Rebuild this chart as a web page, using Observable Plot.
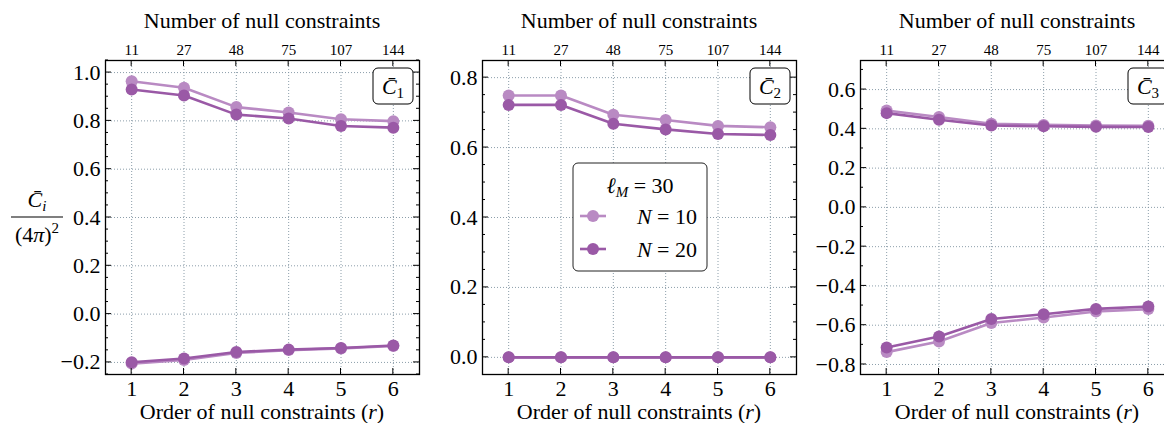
<!DOCTYPE html>
<html>
<head>
<meta charset="utf-8">
<script src="https://cdn.jsdelivr.net/npm/d3@7"></script>
<script src="https://cdn.jsdelivr.net/npm/@observablehq/plot@0.6"></script>
<style>
  body { margin: 0; background: #fff; }
  #fig { position: relative; width: 1164px; height: 423px; overflow: hidden; background: #fff; }
  #fig svg { position: absolute; top: 0; overflow: visible; }
  #fig svg text { font-family: "Liberation Serif", "Times New Roman", Times, "DejaVu Serif", serif; }
</style>
</head>
<body>
<div id="fig"></div>
<script>
const FONT = "Liberation Serif";
const LIGHT = "#b98ac3";
const DARK = "#9a59a6";
const GRID = "#7f93a0";

// Order of the null constraints and the matching number of constraints
const orders = [1, 2, 3, 4, 5, 6];
const nullCounts = [11, 27, 48, 75, 107, 144];
const sizes = [10, 20];

// C̄1 / (4π)^2 bounds
const c1UpperN10 = [0.964, 0.937, 0.857, 0.835, 0.807, 0.799];
const c1UpperN20 = [0.930, 0.905, 0.826, 0.810, 0.779, 0.772];
const c1LowerN10 = [-0.205, -0.190, -0.161, -0.149, -0.142, -0.132];
const c1LowerN20 = [-0.199, -0.184, -0.157, -0.147, -0.140, -0.130];

// C̄2 / (4π)^2 bounds
const c2UpperN10 = [0.749, 0.749, 0.694, 0.679, 0.662, 0.658];
const c2UpperN20 = [0.722, 0.722, 0.668, 0.652, 0.639, 0.636];
const c2LowerN10 = [0, 0, 0, 0, 0, 0];
const c2LowerN20 = [0, 0, 0, 0, 0, 0];

// C̄3 / (4π)^2 bounds
const c3UpperN10 = [0.493, 0.460, 0.426, 0.420, 0.417, 0.416];
const c3UpperN20 = [0.480, 0.446, 0.417, 0.413, 0.410, 0.409];
const c3LowerN10 = [-0.737, -0.683, -0.589, -0.561, -0.530, -0.518];
const c3LowerN20 = [-0.713, -0.657, -0.568, -0.544, -0.517, -0.505];

// Tick labels of the y axes
const yTicks1 = [-0.2, 0.0, 0.2, 0.4, 0.6, 0.8, 1.0];
const yTicks2 = [0.0, 0.2, 0.4, 0.6, 0.8];
const yTicks3 = [-0.8, -0.6, -0.4, -0.2, 0.0, 0.2, 0.4, 0.6];

const rowsOf = (values, N, branch) =>
  orders.map((r, i) => ({r, value: values[i], N, branch}));

const panels = [
  {
    index: 1, left: 0, width: 430, marginLeft: 105, marginRight: 11,
    domain: [-0.25, 1.05], ticks: yTicks1, minorStep: 0.05,
    series: {
      10: [...rowsOf(c1UpperN10, 10, "upper"), ...rowsOf(c1LowerN10, 10, "lower")],
      20: [...rowsOf(c1UpperN20, 20, "upper"), ...rowsOf(c1LowerN20, 20, "lower")]
    }
  },
  {
    index: 2, left: 430, width: 370, marginLeft: 52, marginRight: 4,
    domain: [-0.049, 0.849], ticks: yTicks2, minorStep: 0.05,
    series: {
      10: [...rowsOf(c2UpperN10, 10, "upper"), ...rowsOf(c2LowerN10, 10, "lower")],
      20: [...rowsOf(c2UpperN20, 20, "upper"), ...rowsOf(c2LowerN20, 20, "lower")]
    }
  },
  {
    index: 3, left: 800, width: 380, marginLeft: 60, marginRight: 6,
    domain: [-0.851, 0.748], ticks: yTicks3, minorStep: 0.1,
    series: {
      10: [...rowsOf(c3UpperN10, 10, "upper"), ...rowsOf(c3LowerN10, 10, "lower")],
      20: [...rowsOf(c3UpperN20, 20, "upper"), ...rowsOf(c3LowerN20, 20, "lower")]
    }
  }
];

const TOP = 60, BOTTOM = 374, HEIGHT = 423;
const colorOf = {10: LIGHT, 20: DARK};
const fmt = d3.format(".1f");

function drawPanel(p) {
  const seriesMarks = sizes.flatMap(N => [
    Plot.line(p.series[N], {x: "r", y: "value", z: "branch", stroke: colorOf[N], strokeWidth: 2.6}),
    Plot.dot(p.series[N], {x: "r", y: "value", fill: colorOf[N], r: 6})
  ]);

  const svg = Plot.plot({
    width: p.width,
    height: HEIGHT,
    marginLeft: p.marginLeft,
    marginRight: p.marginRight,
    marginTop: TOP,
    marginBottom: HEIGHT - BOTTOM,
    style: {fontFamily: FONT, background: "transparent", color: "black"},
    x: {domain: [0.5, 6.5], axis: null},
    y: {domain: p.domain, axis: null},
    marks: [
      Plot.gridX(orders, {stroke: GRID, strokeOpacity: 1, strokeWidth: 0.9, strokeDasharray: "1,2"}),
      Plot.gridY(p.ticks, {stroke: GRID, strokeOpacity: 1, strokeWidth: 0.9, strokeDasharray: "1,2"}),
      Plot.axisX(orders, {anchor: "bottom", tickSize: 0, tickPadding: 6, fontSize: 22, label: null, tickFormat: d => String(d)}),
      Plot.axisX(orders, {anchor: "top", tickSize: 0, tickPadding: 6, fontSize: 15, label: null, tickFormat: d => String(nullCounts[d - 1])}),
      Plot.axisY(p.ticks, {anchor: "left", tickSize: 0, tickPadding: 5, fontSize: 22, label: null, tickFormat: fmt}),
      ...seriesMarks,
      Plot.frame({stroke: "black", strokeWidth: 1.3})
    ]
  });
  svg.style.left = p.left + "px";

  const x = svg.scale("x"), y = svg.scale("y");
  const L = p.marginLeft, R = p.width - p.marginRight;
  const root = d3.select(svg);

  // inward ticks on all four sides
  const ticks = root.append("g").attr("stroke", "black").attr("stroke-width", 1);
  const [lo, hi] = p.domain;
  const minors = d3.range(Math.ceil(lo / p.minorStep - 1e-9), Math.floor(hi / p.minorStep + 1e-9) + 1)
    .map(k => k * p.minorStep)
    .filter(v => !p.ticks.some(t => Math.abs(t - v) < 1e-9));
  const yTick = (v, len) => {
    const yy = y.apply(v);
    ticks.append("line").attr("x1", L).attr("x2", L + len).attr("y1", yy).attr("y2", yy);
    ticks.append("line").attr("x1", R - len).attr("x2", R).attr("y1", yy).attr("y2", yy);
  };
  p.ticks.forEach(v => yTick(v, 6));
  minors.forEach(v => yTick(v, 3));
  orders.forEach(v => {
    const xx = x.apply(v);
    ticks.append("line").attr("x1", xx).attr("x2", xx).attr("y1", BOTTOM).attr("y2", BOTTOM - 6);
    ticks.append("line").attr("x1", xx).attr("x2", xx).attr("y1", TOP).attr("y2", TOP + 6);
  });

  const cx = (L + R) / 2;
  const text = (xx, yy, size, anchor = "middle") =>
    root.append("text").attr("x", xx).attr("y", yy)
      .attr("font-size", size)
      .attr("text-anchor", anchor).attr("fill", "black");

  // axis titles
  text(cx, 28, 22).text("Number of null constraints");
  const xt = text(cx, 419, 22);
  xt.append("tspan").text("Order of null constraints (");
  xt.append("tspan").attr("font-style", "italic").text("r");
  xt.append("tspan").text(")");

  // series label box in the upper right corner
  const bw = 40, bh = 36, bx = R - 6 - bw, by = 68;
  root.append("rect").attr("x", bx).attr("y", by).attr("width", bw).attr("height", bh)
    .attr("rx", 5).attr("fill", "white").attr("stroke", "black").attr("stroke-width", 1);
  const lab = text(bx + bw / 2, by + 26, 22);
  lab.append("tspan").attr("font-style", "italic").text("C\u0304");
  lab.append("tspan").attr("font-size", 15).attr("dy", 4).text(String(p.index));

  return svg;
}

const fig = document.getElementById("fig");
const svgs = panels.map(drawPanel);
svgs.forEach(s => fig.appendChild(s));

// y-axis label: C̄_i / (4π)^2
{
  const root = d3.select(svgs[0]);
  const t = (xx, yy, size) => root.append("text").attr("x", xx).attr("y", yy)
    .attr("font-size", size).attr("text-anchor", "middle").attr("fill", "black");
  const num = t(37, 207, 22);
  num.append("tspan").attr("font-style", "italic").text("C\u0304");
  num.append("tspan").attr("font-style", "italic").attr("font-size", 15).attr("dy", 4).text("i");
  root.append("line").attr("x1", 11).attr("x2", 63).attr("y1", 217).attr("y2", 217)
    .attr("stroke", "black").attr("stroke-width", 1.2);
  const den = t(37, 242, 22);
  den.append("tspan").text("(4");
  den.append("tspan").attr("font-style", "italic").text("π");
  den.append("tspan").text(")");
  den.append("tspan").attr("font-size", 15).attr("dy", -9).text("2");
}

// legend in the middle panel
{
  const p = panels[1];
  const root = d3.select(svgs[1]);
  const lx = 573 - p.left, ly = 163, lw = 134, lh = 108;
  root.append("rect").attr("x", lx).attr("y", ly).attr("width", lw).attr("height", lh)
    .attr("rx", 5).attr("fill", "white").attr("stroke", "#222").attr("stroke-width", 1);
  const t = (xx, yy, size, anchor = "middle") => root.append("text").attr("x", xx).attr("y", yy)
    .attr("font-size", size).attr("text-anchor", anchor).attr("fill", "black");
  const title = t(lx + lw / 2, ly + 30, 22);
  title.append("tspan").attr("font-style", "italic").text("\u2113");
  title.append("tspan").attr("font-style", "italic").attr("font-size", 15).attr("dy", 4).text("M");
  title.append("tspan").attr("dy", -4).text(" = 30");
  sizes.forEach((N, i) => {
    const yy = ly + 53 + i * 33;
    root.append("line").attr("x1", lx + 7).attr("x2", lx + 33).attr("y1", yy).attr("y2", yy)
      .attr("stroke", colorOf[N]).attr("stroke-width", 2.6);
    root.append("circle").attr("cx", lx + 20).attr("cy", yy).attr("r", 6).attr("fill", colorOf[N]);
    const e = t(lx + 124, yy + 8, 22, "end");
    e.append("tspan").attr("font-style", "italic").text("N");
    e.append("tspan").text(" = " + N);
  });
}
</script>
</body>
</html>
